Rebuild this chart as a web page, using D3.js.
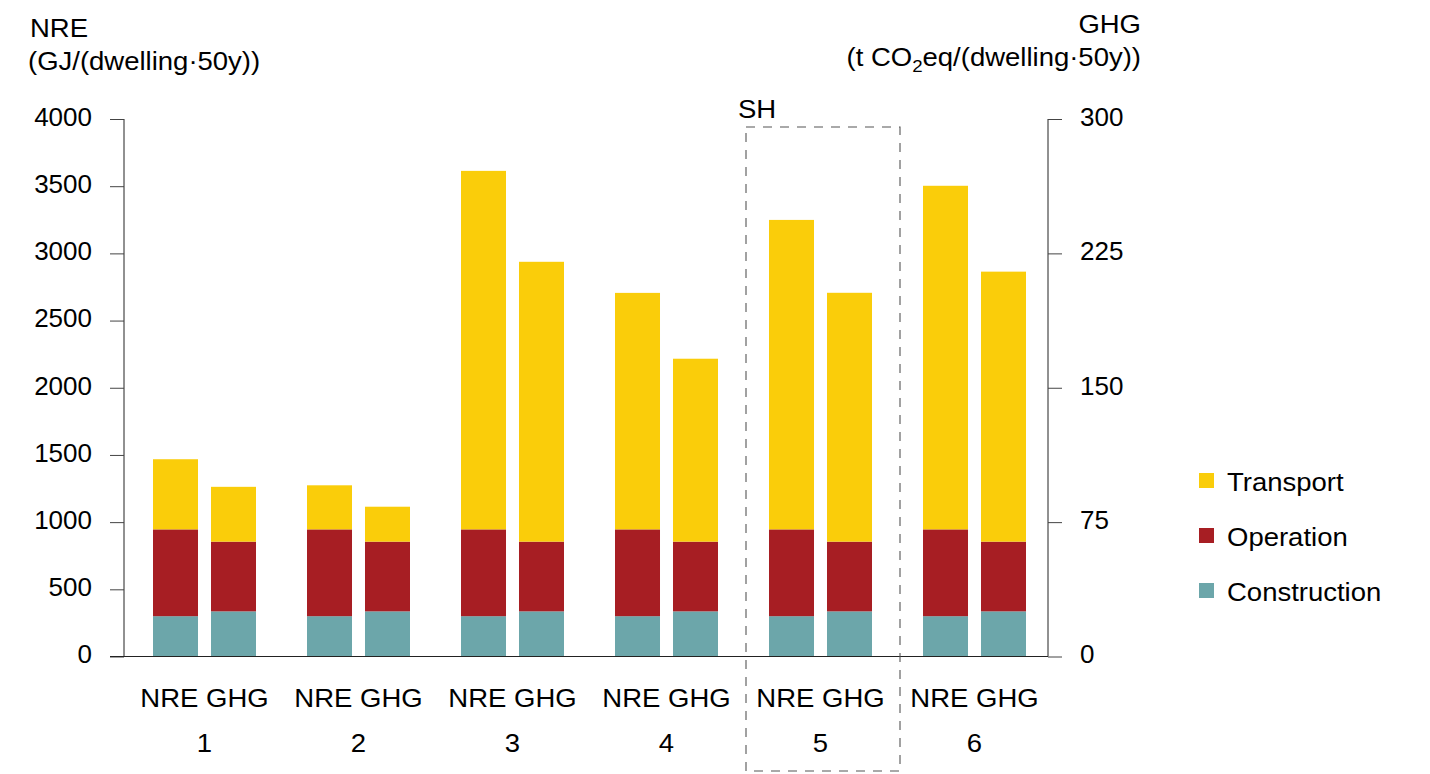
<!DOCTYPE html>
<html>
<head>
<meta charset="utf-8">
<script src="https://cdn.jsdelivr.net/npm/d3@7"></script>
<style>
  html, body { margin: 0; padding: 0; background: #fff; }
  svg { display: block; font-family: "Liberation Sans", Arial, sans-serif; }
</style>
</head>
<body>
<svg id="chart" width="1430" height="774"></svg>
<script>
// ---- Data ----
const groups = ["1", "2", "3", "4", "5", "6"];
const indicators = ["NRE", "GHG"];
const stages = ["Construction", "Operation", "Transport"];
// NRE in GJ/(dwelling·50y)
const nreConstruction = [300, 300, 300, 300, 300, 300];
const nreOperation = [646, 646, 646, 646, 646, 646];
const nreTransport = [522, 328, 2668, 1760, 2303, 2557];
// GHG in t CO2eq/(dwelling·50y)
const ghgConstruction = [25.2, 25.2, 25.2, 25.2, 25.2, 25.2];
const ghgOperation = [38.9, 38.9, 38.9, 38.9, 38.9, 38.9];
const ghgTransport = [30.6, 19.5, 156.2, 102.1, 138.9, 150.7];
const leftTicks = [0, 500, 1000, 1500, 2000, 2500, 3000, 3500, 4000];
const rightTicks = [0, 75, 150, 225, 300];
const highlightGroup = "5";
const highlightLabel = "SH";
const legendItems = ["Transport", "Operation", "Construction"];

const colors = { Transport: "#FACD0A", Operation: "#A71E23", Construction: "#6CA6AA" };

// ---- Layout ----
const svg = d3.select("#chart");
const yL = d3.scaleLinear().domain([0, 4000]).range([656.5, 119]);
const yR = d3.scaleLinear().domain([0, 300]).range([656.5, 119]);
const x0 = d3.scaleBand().domain(groups).range([127.5, 1051.5]).padding(0);
const x1 = d3.scaleBand().domain(indicators).range([25.5, 128.5]).paddingInner(0.224).paddingOuter(0);

const SX = 1.1; // horizontal stretch of the reference typeface
function txt(x, y, str, size, anchor) {
  const g = svg.append("g").attr("transform", `translate(${x},${y}) scale(${SX},1)`);
  return g.append("text").attr("x", 0).attr("y", 0).attr("font-size", size)
    .attr("text-anchor", anchor || "start").attr("fill", "#000").text(str);
}

const rows = [];
groups.forEach((g, i) => {
  rows.push({ group: g, ind: "NRE", scale: yL,
    vals: { Construction: nreConstruction[i], Operation: nreOperation[i], Transport: nreTransport[i] } });
  rows.push({ group: g, ind: "GHG", scale: yR,
    vals: { Construction: ghgConstruction[i], Operation: ghgOperation[i], Transport: ghgTransport[i] } });
});

// bars
rows.forEach(r => {
  let base = 0;
  stages.forEach(s => {
    const v = r.vals[s];
    svg.append("rect")
      .attr("x", x0(r.group) + x1(r.ind))
      .attr("width", x1.bandwidth())
      .attr("y", r.scale(base + v))
      .attr("height", r.scale(base) - r.scale(base + v))
      .attr("fill", colors[s]);
    base += v;
  });
});

// left axis
const gL = svg.append("g").attr("transform", "translate(124,0)")
  .call(d3.axisLeft(yL).tickValues(leftTicks).tickSize(14).tickPadding(18).tickFormat(d3.format("d")));
gL.select(".domain").attr("d", `M0,${yL(4000)}V${yL(0)}`).attr("stroke", "#222");
gL.selectAll(".tick line").attr("stroke", "#444");
gL.selectAll("text").attr("font-size", 26).attr("fill", "#000").attr("dy", "0.24em")
  .attr("font-family", "Liberation Sans, Arial, sans-serif");

// right axis
const gR = svg.append("g").attr("transform", "translate(1048,0)")
  .call(d3.axisRight(yR).tickValues(rightTicks).tickSize(14).tickPadding(18).tickFormat(d3.format("d")));
gR.select(".domain").attr("d", `M0,${yR(300)}V${yR(0)}`).attr("stroke", "#222");
gR.selectAll(".tick line").attr("stroke", "#444");
gR.selectAll("text").attr("font-size", 26).attr("fill", "#000").attr("dy", "0.24em")
  .attr("font-family", "Liberation Sans, Arial, sans-serif");

// baseline
svg.append("line").attr("x1", 110).attr("x2", 1048).attr("y1", yL(0)).attr("y2", yL(0))
  .attr("stroke", "#222").attr("stroke-width", 1.2);

// x labels
groups.forEach(g => {
  const cx = x0(g) + x0.bandwidth() / 2;
  txt(cx, 707, indicators.join(" "), 25, "middle");
  txt(cx, 752, g, 25, "middle");
});

// axis titles
txt(30, 37, "NRE", 25);
txt(28, 70, "(GJ/(dwelling·50y))", 25);
txt(1141, 33, "GHG", 25, "end");
const rt = txt(1141, 66, "", 25, "end");
rt.append("tspan").text("(t CO");
rt.append("tspan").attr("font-size", 17).attr("dy", 6).text("2");
rt.append("tspan").attr("dy", -6).text("eq/(dwelling·50y))");

// highlight box
const hx = x0(highlightGroup);
svg.append("rect").attr("x", hx + 2.5).attr("y", 127).attr("width", x0.bandwidth()).attr("height", 644)
  .attr("fill", "none").attr("stroke", "#555").attr("stroke-width", 1.1).attr("stroke-dasharray", "9,8");
txt(hx - 5.5, 118, highlightLabel, 25);

// legend
legendItems.forEach((s, i) => {
  const y = 473 + i * 55;
  svg.append("rect").attr("x", 1199).attr("y", y).attr("width", 15).attr("height", 15).attr("fill", colors[s]);
  txt(1227, y + 17.5, s, 25);
});
</script>
</body>
</html>
